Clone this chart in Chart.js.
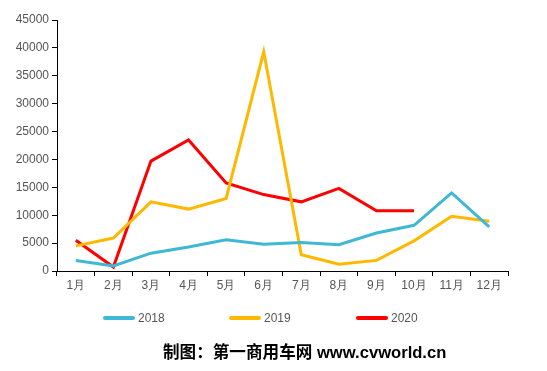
<!DOCTYPE html>
<html>
<head>
<meta charset="utf-8">
<script src="https://cdn.jsdelivr.net/npm/chart.js@4"></script>
<style>
  body { margin: 0; background: #fff; }
  #wrap { position: relative; width: 547px; height: 371px; }
  .leg { position: absolute; top: 311px; font: 12px "Liberation Sans", Arial, sans-serif; color: #555; }
  .leg span { display: inline-block; width: 32px; height: 4px; border-radius: 2px; vertical-align: middle; margin-right: 3px; position: relative; top: -1px; }
  #credit { position: absolute; left: 163px; top: 339px; font: bold 16.6px "Liberation Sans", "Noto Sans CJK SC", sans-serif; color: #000; white-space: nowrap; }
</style>
</head>
<body>
<div id="wrap">
  <canvas id="c" width="547" height="371"></canvas>
  <div class="leg" style="left:103px"><span style="background:#3FB8D3"></span>2018</div>
  <div class="leg" style="left:229px"><span style="background:#FFB800"></span>2019</div>
  <div class="leg" style="left:356px"><span style="background:#FF0000"></span>2020</div>
  <div id="credit">制图：第一商用车网 www.cvworld.cn</div>
</div>
<script>
const months = ['1月','2月','3月','4月','5月','6月','7月','8月','9月','10月','11月','12月'];
const sales2018 = [1900, 900, 3200, 4300, 5600, 4800, 5100, 4700, 6800, 8200, 14000, 7900];
const sales2019 = [4500, 5900, 12400, 11100, 13000, 39300, 2900, 1200, 1900, 5400, 9800, 8900];
const sales2020 = [5500, 700, 19700, 23500, 15800, 13700, 12400, 14800, 10800, 10800, null, null];
const yTicks = [0, 5000, 10000, 15000, 20000, 25000, 30000, 35000, 40000, 45000];

const tickFont = { family: '"Liberation Sans", Arial, sans-serif', size: 12 };

new Chart(document.getElementById('c'), {
  type: 'line',
  data: {
    labels: months,
    datasets: [
      { label: '2018', data: sales2018, borderColor: '#3FB8D3', borderWidth: 3 },
      { label: '2019', data: sales2019, borderColor: '#FFB800', borderWidth: 3 },
      { label: '2020', data: sales2020, borderColor: '#FF0000', borderWidth: 3 }
    ]
  },
  options: {
    responsive: false,
    animation: false,
    elements: { point: { radius: 0 }, line: { tension: 0, borderJoinStyle: 'miter' } },
    layout: { padding: { top: 20, right: 39, left: 0, bottom: 0 } },
    plugins: { legend: { display: false }, tooltip: { enabled: false } },
    scales: {
      x: {
        offset: true,
        grid: { display: true, drawOnChartArea: false, offset: true, tickLength: 5, color: '#000' },
        border: { color: '#000' },
        ticks: { color: '#555', font: tickFont, padding: 2, maxRotation: 0 },
        afterFit: s => { s.height = 100; }
      },
      y: {
        min: 0,
        max: 45000,
        afterBuildTicks: s => { s.ticks = yTicks.map(v => ({ value: v })); },
        grid: { display: true, drawOnChartArea: false, tickLength: 5, color: '#000' },
        border: { color: '#000' },
        ticks: { color: '#555', font: tickFont, padding: 3, callback: v => String(v) },
        afterFit: s => { s.width = 57; }
      }
    }
  }
});
</script>
</body>
</html>
